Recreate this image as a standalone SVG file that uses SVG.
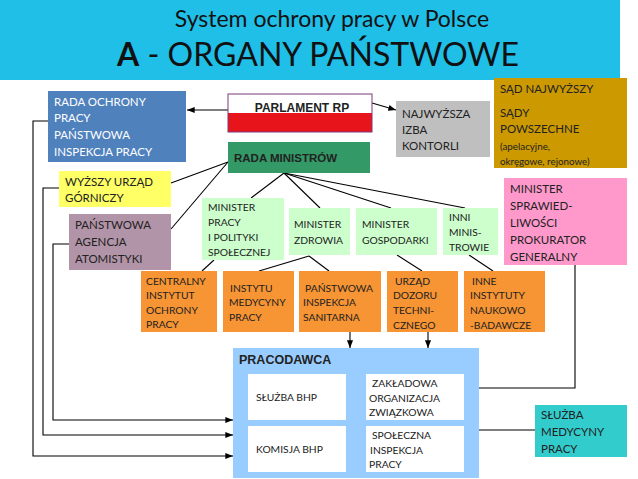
<svg xmlns="http://www.w3.org/2000/svg" width="638" height="479" viewBox="0 0 638 479">
<defs>
<marker id="ah" viewBox="0 0 10 10" refX="10" refY="5" markerWidth="7" markerHeight="7" orient="auto"><path d="M0,1 L10,5 L0,9 z" fill="#000"/></marker>
<style>
text{font-family:Lato,"Open Sans","Liberation Sans",sans-serif;font-size:11px;fill:#222}
.s{font-size:11.5px}
.xs{font-size:10.3px}
.b{font-family:"Liberation Sans",Arial,sans-serif;font-weight:bold;font-size:12px}
.c line,.c path{stroke:#000;stroke-width:1.1;fill:none}
</style>
</defs>
<rect width="638" height="479" fill="#fff"/>
<rect x="0" y="0" width="620" height="80" fill="#1FBFE8"/>
<text x="332" y="27" text-anchor="middle" style="font-size:23px;fill:#111">System ochrony pracy w Polsce</text>
<text x="318" y="66" text-anchor="middle" style="font-size:32px;fill:#111"><tspan font-weight="bold">A</tspan> - ORGANY PAŃSTWOWE</text>

<g class="c">
<line x1="228" y1="110" x2="187" y2="110" marker-end="url(#ah)"/>
<line x1="372" y1="103" x2="396" y2="110" marker-end="url(#ah)"/>
<line x1="171" y1="183" x2="228" y2="162"/>
<line x1="171" y1="229" x2="228" y2="162"/>
<line x1="284" y1="173" x2="251" y2="198"/>
<line x1="284" y1="173" x2="320" y2="208"/>
<line x1="284" y1="173" x2="391" y2="208"/>
<line x1="284" y1="173" x2="465" y2="208"/>
<line x1="214" y1="260" x2="202" y2="271"/>
<line x1="309" y1="256" x2="259" y2="271"/>
<line x1="309" y1="256" x2="329" y2="271"/>
<line x1="397" y1="255" x2="422" y2="271"/>
<line x1="469" y1="255" x2="493" y2="271"/>
<line x1="350" y1="332" x2="350" y2="348" marker-end="url(#ah)"/>
<line x1="428" y1="332" x2="428" y2="348" marker-end="url(#ah)"/>
<path d="M479,388 H575 V265"/>
<line x1="479" y1="430" x2="535" y2="430"/>
<path d="M48,121 H33 V456 H233" marker-end="url(#ah)"/>
<path d="M59,188 H43 V435 H233" marker-end="url(#ah)"/>
<path d="M69,244 H53 V420 H233" marker-end="url(#ah)"/>
</g>

<g id="rop"><rect x="48" y="91" width="138" height="71" fill="#4F81BD"/>
<text x="54" y="106" class="s" style="fill:#fff">RADA OCHRONY</text><text x="54" y="122" class="s" style="fill:#fff">PRACY</text><text x="54" y="139" class="s" style="fill:#fff">PAŃSTWOWA</text><text x="54" y="156" class="s" style="fill:#fff">INSPEKCJA PRACY</text></g>
<g id="parlament"><rect x="228" y="94" width="144" height="19" fill="#fff"/><rect x="228" y="113" width="144" height="19" fill="#E8141C"/><rect x="228" y="94" width="144" height="38" fill="none" stroke="#7A3B7A" stroke-width="1"/>
<text x="302" y="112" text-anchor="middle" class="b">PARLAMENT RP</text></g>
<g id="nik"><rect x="396" y="101" width="94" height="56" fill="#BFBFBF"/>
<text x="402" y="118" class="s">NAJWYŻSZA</text><text x="402" y="134" class="s">IZBA</text><text x="402" y="150" class="s">KONTORLI</text></g>
<g id="sad"><rect x="494" y="78" width="133" height="90" fill="#CC9900"/>
<text x="500" y="93" class="s">SĄD NAJWYŻSZY</text><text x="500" y="117" class="s">SĄDY</text><text x="500" y="133" class="s">POWSZECHNE</text><text x="500" y="150" style="font-size:9.8px">(apelacyjne,</text><text x="500" y="165" style="font-size:9.8px">okręgowe, rejonowe)</text></g>
<g id="rm"><rect x="228" y="142" width="142" height="31" fill="#339966"/>
<text x="234" y="162" class="b" style="font-size:11.5px">RADA MINISTRÓW</text></g>
<g id="wug"><rect x="59" y="171" width="112" height="36" fill="#FFFF66"/>
<text x="65" y="186" class="s">WYŻSZY URZĄD</text><text x="65" y="202" class="s">GÓRNICZY</text></g>
<g id="paa"><rect x="69" y="214" width="102" height="56" fill="#B294A8"/>
<text x="75" y="229" class="s">PAŃSTWOWA</text><text x="75" y="246" class="s">AGENCJA</text><text x="75" y="263" class="s">ATOMISTYKI</text></g>
<g id="mpips"><rect x="202" y="198" width="82" height="62" fill="#CCFFCC"/>
<text x="208" y="211" class="xs">MINISTER</text><text x="208" y="226" class="xs">PRACY</text><text x="208" y="241" class="xs">I POLITYKI</text><text x="208" y="256" class="xs">SPOŁECZNEJ</text></g>
<g id="mz"><rect x="289" y="208" width="61" height="47" fill="#CCFFCC"/>
<text x="294" y="228" class="xs">MINISTER</text><text x="294" y="244" class="xs">ZDROWIA</text></g>
<g id="mg"><rect x="356" y="208" width="81" height="47" fill="#CCFFCC"/>
<text x="362" y="228" class="xs">MINISTER</text><text x="362" y="244" class="xs">GOSPODARKI</text></g>
<g id="inni"><rect x="443" y="208" width="55" height="47" fill="#CCFFCC"/>
<text x="449" y="221" class="xs">INNI</text><text x="449" y="236" class="xs">MINIS-</text><text x="449" y="251" class="xs">TROWIE</text></g>
<g id="ms"><rect x="504" y="178" width="123" height="87" fill="#FF99CC"/>
<text x="510" y="193" class="s">MINISTER</text><text x="510" y="210" class="s">SPRAWIED-</text><text x="510" y="227" class="s">LIWOŚCI</text><text x="510" y="244" class="s">PROKURATOR</text><text x="510" y="261" class="s">GENERALNY</text></g>
<g id="ciop"><rect x="141" y="271" width="76" height="61" fill="#F79433"/>
<text x="146" y="285" class="xs">CENTRALNY</text><text x="146" y="299" class="xs">INSTYTUT</text><text x="146" y="314" class="xs">OCHRONY</text><text x="146" y="328" class="xs">PRACY</text></g>
<g id="imp"><rect x="223" y="271" width="71" height="61" fill="#F79433"/>
<text x="230" y="292" class="xs">INSTYTU</text><text x="229" y="306" class="xs">MEDYCYNY</text><text x="229" y="321" class="xs">PRACY</text></g>
<g id="pis"><rect x="299" y="271" width="82" height="61" fill="#F79433"/>
<text x="305" y="292" class="xs">PAŃSTWOWA</text><text x="303" y="306" class="xs">INSPEKCJA</text><text x="303" y="321" class="xs">SANITARNA</text></g>
<g id="udt"><rect x="387" y="271" width="71" height="61" fill="#F79433"/>
<text x="395" y="285" class="xs">URZĄD</text><text x="393" y="299" class="xs">DOZORU</text><text x="393" y="314" class="xs">TECHNI-</text><text x="393" y="329" class="xs">CZNEGO</text></g>
<g id="inne"><rect x="464" y="271" width="81" height="61" fill="#F79433"/>
<text x="472" y="285" class="xs">INNE</text><text x="470" y="299" class="xs">INSTYTUTY</text><text x="470" y="314" class="xs">NAUKOWO</text><text x="470" y="329" class="xs">-BADAWCZE</text></g>
<g id="pracodawca"><rect x="233" y="348" width="246" height="130" fill="#99CCFF"/>
<text x="239" y="364" class="b" style="font-size:12.5px">PRACODAWCA</text>
<rect x="248" y="374" width="98" height="46" fill="#fff"/><text x="256" y="401" class="xs">SŁUŻBA BHP</text>
<rect x="248" y="426" width="98" height="46" fill="#fff"/><text x="256" y="453" class="xs">KOMISJA BHP</text>
<rect x="366" y="374" width="98" height="46" fill="#fff"/><text x="372" y="387" class="xs">ZAKŁADOWA</text><text x="369" y="402" class="xs">ORGANIZACJA</text><text x="369" y="416" class="xs">ZWIĄZKOWA</text>
<rect x="366" y="426" width="98" height="46" fill="#fff"/><text x="372" y="439" class="xs">SPOŁECZNA</text><text x="370" y="454" class="xs">INSPEKCJA</text><text x="369" y="468" class="xs">PRACY</text></g>
<g id="smp"><rect x="535" y="405" width="92" height="52" fill="#33CCCC"/>
<text x="541" y="419" class="s">SŁUŻBA</text><text x="541" y="436" class="s">MEDYCYNY</text><text x="541" y="453" class="s">PRACY</text></g>
</svg>
